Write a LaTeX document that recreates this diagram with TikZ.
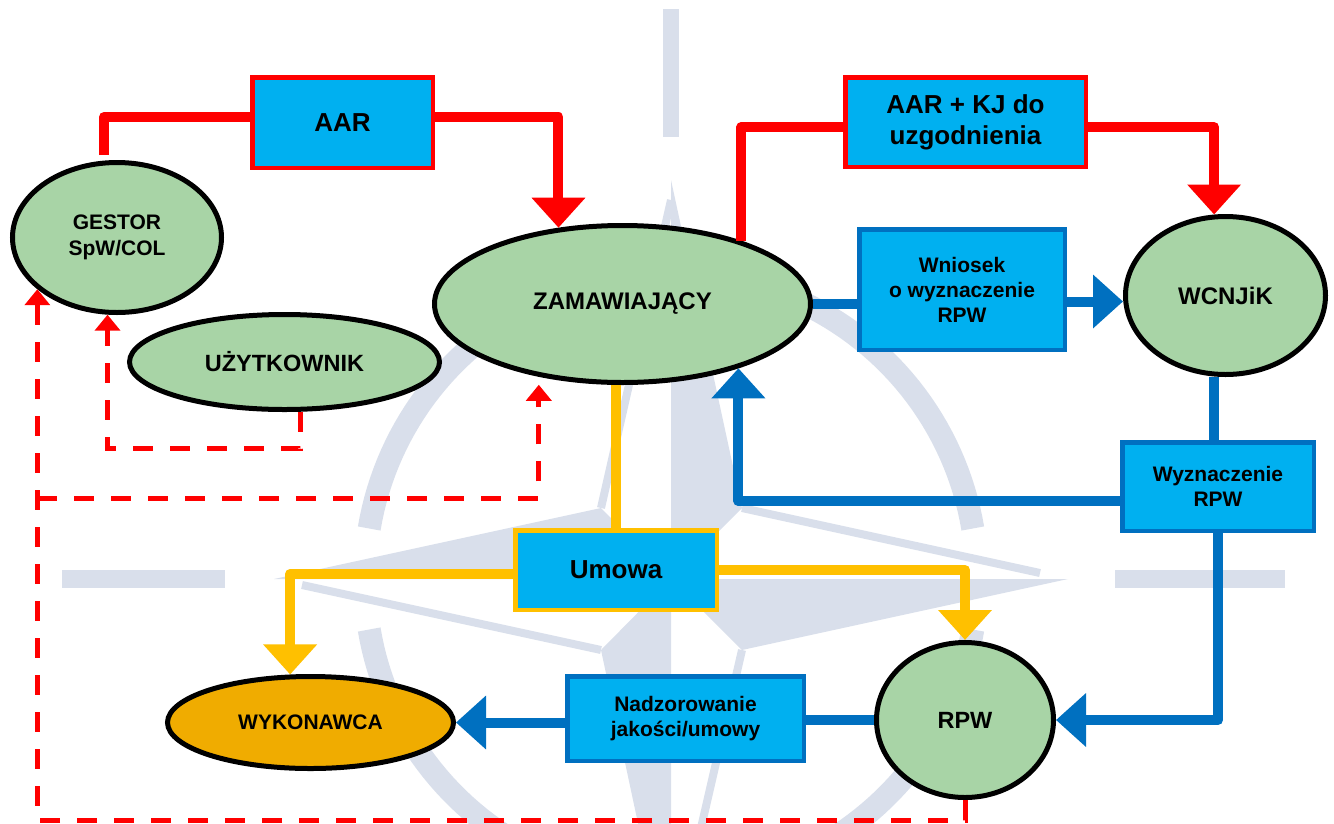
\documentclass[tikz,border=0pt]{standalone}
\usepackage{fontspec}
\setmainfont{Liberation Sans}
\usetikzlibrary{shapes.geometric,arrows.meta,calc}
\definecolor{cyanbox}{RGB}{0,176,240}
\definecolor{bluel}{RGB}{0,112,192}
\definecolor{redl}{RGB}{255,0,0}
\definecolor{yell}{RGB}{255,192,0}
\definecolor{greenf}{RGB}{168,212,166}
\definecolor{orangef}{RGB}{240,172,0}
\definecolor{wm}{RGB}{217,223,235}
\newcommand{\fs}[2]{\bfseries\fontsize{#1}{#2}\selectfont}
\begin{document}
\begin{tikzpicture}[x=1pt,y=-1pt,
  ell/.style={ellipse, draw=black, line width=5pt, fill=greenf, inner sep=0pt, align=center},
  box/.style={rectangle, line width=4.5pt, fill=cyanbox, inner sep=0pt, align=center},
  redbox/.style={box, draw=redl},
  bluebox/.style={box, draw=bluel},
  yelbox/.style={box, draw=yell},
  conn/.style={line width=10pt, line join=round},
  redc/.style={conn, draw=redl},
  bluec/.style={conn, draw=bluel},
  yelc/.style={conn, draw=yell},
  bigtip/.style={-{Triangle[length=30pt,width=52pt]}},
  dashc/.style={draw=redl, line width=5pt, dash pattern=on 20pt off 17pt, -{Triangle[length=16pt,width=25pt]}},
]
\useasboundingbox (0,0) rectangle (1334,823);
% ---- watermark ----
\fill[wm] (663,9) rectangle (679,137);
\fill[wm] (62,570) rectangle (225,588);
\fill[wm] (1115,570) rectangle (1285,588);
\foreach \a/\b in {9.5/80.5, 99.5/170.5, 189.5/260.5, 279.5/350.5}
  \draw[wm, line width=23pt] plot[domain=\a:\b, samples=40] ({671+306*cos(\x)},{579+306*sin(\x)});
\fill[wm] (671,579) -- (274,579) -- (601,508) -- cycle;
\fill[wm] (671,579) -- (671,180) -- (742,508) -- cycle;
\fill[wm] (671,579) -- (1068,579) -- (742,650) -- cycle;
\fill[wm] (671,579) -- (671,978) -- (601,650) -- cycle;
\draw[wm, line width=8pt] (302,585) -- (601,650);
\draw[wm, line width=8pt] (671,200) -- (601,508);
\draw[wm, line width=8pt] (1040,573) -- (742,508);
\draw[wm, line width=8pt] (671,958) -- (742,650);
% ---- nodes ----
\node[ell, minimum width=209pt, minimum height=150pt, font=\fs{21}{26}] (gestor) at (117,237.5) {GESTOR\\SpW/COL};
\node[ell, minimum width=310pt, minimum height=95pt, font=\fs{23.5}{28}] (uzyt) at (284.5,362) {UŻYTKOWNIK};
\node[ell, minimum width=376pt, minimum height=157pt, font=\fs{24}{28}] (zam) at (622.5,304) {ZAMAWIAJĄCY};
\node[ell, minimum width=200pt, minimum height=158pt, font=\fs{24}{28}] (wcnjik) at (1225.5,295.5) {WCNJiK};
\node[ell, minimum width=177pt, minimum height=155pt, font=\fs{23.5}{28}] (rpw) at (965,720) {RPW};
\node[ell, fill=orangef, minimum width=286pt, minimum height=92pt, font=\fs{21}{26}] (wyk) at (310.5,722.5) {WYKONAWCA};
\node[redbox, minimum width=180.5pt, minimum height=90.5pt, font=\fs{26}{31}] (aar) at (342.5,122.5) {AAR};
\node[redbox, minimum width=240.5pt, minimum height=89.5pt, font=\fs{26}{31}] (aarkj) at (965.5,122) {AAR + KJ do\\uzgodnienia};
\node[bluebox, minimum width=205.5pt, minimum height=120.5pt, font=\fs{21}{25}] (wniosek) at (962,289.5) {Wniosek\\o wyznaczenie\\RPW};
\node[bluebox, minimum width=191.5pt, minimum height=88.5pt, font=\fs{21}{25}] (wyzn) at (1218,486.5) {Wyznaczenie\\RPW};
\node[yelbox, minimum width=201.5pt, minimum height=79.5pt, font=\fs{26}{31}] (umowa) at (616,570) {Umowa};
\node[bluebox, minimum width=236.5pt, minimum height=84.5pt, font=\fs{21}{25}] (nadz) at (685.5,718.5) {Nadzorowanie\\jakości/umowy};
% ---- red connectors ----
\coordinate (g1) at ($(gestor.north)+(-13,-5)$);
\draw[redc] (g1) |- ($(aar.west)+(0,-5.5)$);
\draw[redc, bigtip] ($(aar.east)+(0,-5.5)$) -| (zam.130.8);
\draw[redc] (zam.28.6) |- ($(aarkj.west)+(0,5)$);
\draw[redc, bigtip] ($(aarkj.east)+(0,5)$) -| (wcnjik.98);
% ---- blue connectors ----
\draw[bluec] (zam.east) -- (zam.east -| wniosek.west);
\draw[bluec, bigtip] ($(wniosek.east)+(0,12)$) -- ($(wcnjik.west)+(0,6)$);
\coordinate (b3) at ($(wyzn.north)+(-4,0)$);
\draw[bluec] (b3 |- wcnjik.south) -- (b3);
\draw[bluec, bigtip] ($(wyzn.west)+(0,14.5)$) -| (zam.331.4);
\draw[bluec, bigtip] (wyzn.south) |- (rpw.east);
\draw[bluec] (rpw.west) -- (rpw.west -| nadz.east);
\draw[bluec, bigtip] (nadz.west |- wyk.east) -- (wyk.east);
% ---- yellow connectors ----
\draw[yelc] (umowa.north |- zam.south) -- (umowa.north);
\draw[yelc, bigtip] ($(umowa.west)+(0,4)$) -| (wyk.113);
\draw[yelc, bigtip] (umowa.east) -| (rpw.north);
% ---- dashed red connectors ----
\coordinate (d1) at ($(uzyt.-72)+(0,37)$);
\draw[dashc] (uzyt.-72) -- (d1) -| (gestor.263);
\coordinate (d2) at ($(rpw.south)+(0,20)$);
\draw[dashc] (rpw.south) -- (d2) -| (gestor.213);
\coordinate (jy) at (0,498);
\draw[dashc, shorten >=8pt] (gestor.213 |- jy) -| (zam.221);
\end{tikzpicture}
\end{document}
